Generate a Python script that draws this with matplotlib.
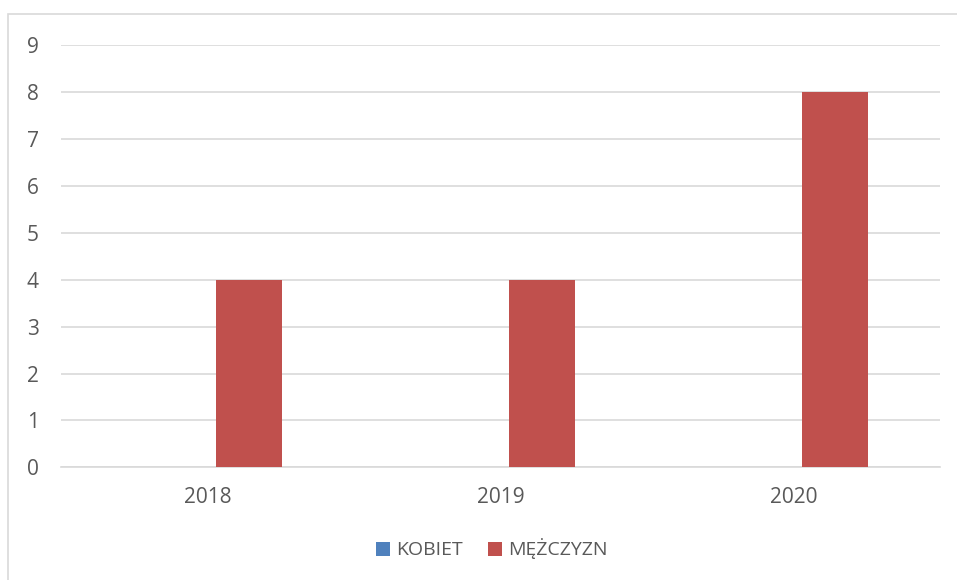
import numpy as np
import matplotlib.pyplot as plt
from matplotlib.patches import Rectangle

years = ['2018', '2019', '2020']
kobiet = [0, 0, 0]
mezczyzn = [4, 4, 8]
yticks = list(range(0, 10))

plt.rcParams['font.family'] = ['Open Sans', 'DejaVu Sans']

W, H = 957, 580
fig = plt.figure(figsize=(W / 100, H / 100), dpi=100)

# outer chart border (light gray, right/bottom cut off like in the source)
fig.patches.append(Rectangle((8 / W, -0.1), 1.2, 1 - 14 / H + 0.1,
                             transform=fig.transFigure, fill=False,
                             edgecolor='#D9D9D9', linewidth=1.2))

ax = fig.add_axes([61 / W, 1 - 467.3 / H, (940 - 61) / W, (467.3 - 45.2) / H])

x = np.arange(len(years))
bw = 0.224
off = 0.142
ax.bar(x - off, kobiet, bw, color='#4F81BD', label='KOBIET', zorder=3)
ax.bar(x + off, mezczyzn, bw, color='#C0504D', label='MĘŻCZYZN', zorder=3)

ax.set_xlim(-0.5, len(years) - 0.5)
ax.set_ylim(0, 9)
ax.set_yticks(yticks)
ax.set_xticks(x)
ax.set_xticklabels(years)
ax.yaxis.grid(True, color='#D9D9D9', linewidth=1.2, zorder=0)
ax.set_axisbelow(True)
for s in ['top', 'right', 'left']:
    ax.spines[s].set_visible(False)
ax.spines['bottom'].set_color('#D9D9D9')
ax.spines['bottom'].set_linewidth(1.2)
ax.tick_params(axis='both', length=0, labelsize=15, colors='#595959')
ax.tick_params(axis='y', pad=16)
ax.tick_params(axis='x', pad=14)

fig.legend(loc='center', bbox_to_anchor=(492 / W, 1 - 549 / H), ncol=2, frameon=False,
           fontsize=14, labelcolor='#595959', handlelength=0.72, handleheight=0.72,
           handletextpad=0.3, columnspacing=1.3)

fig.savefig('out.png', dpi=100)
